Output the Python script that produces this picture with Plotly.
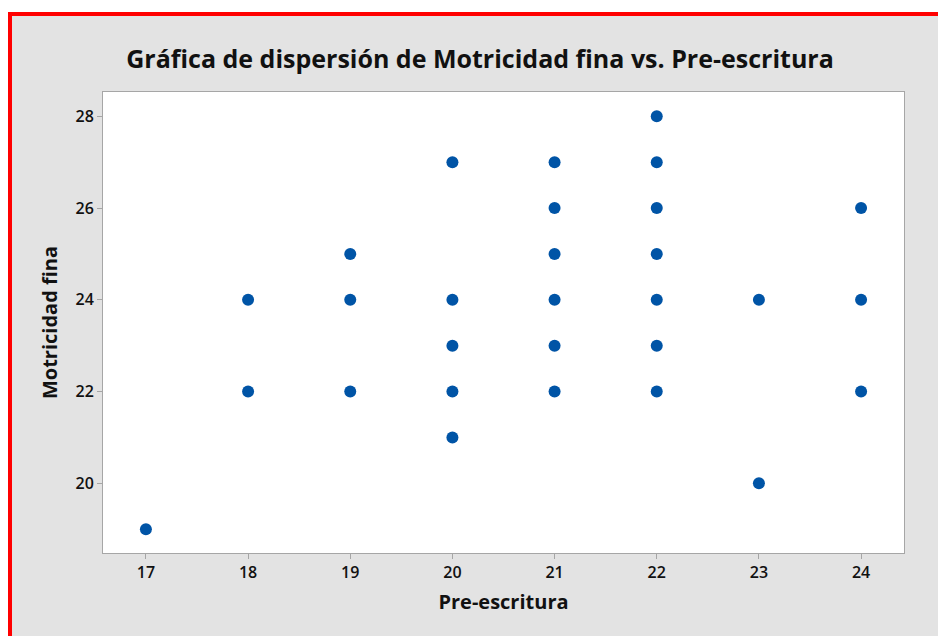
import plotly.graph_objects as go

# Data (Pre-escritura vs Motricidad fina)
pre_escritura = [17,
                 18, 18,
                 19, 19, 19,
                 20, 20, 20, 20, 20,
                 21, 21, 21, 21, 21, 21,
                 22, 22, 22, 22, 22, 22, 22,
                 23, 23,
                 24, 24, 24]
motricidad_fina = [19,
                   22, 24,
                   22, 24, 25,
                   21, 22, 23, 24, 27,
                   22, 23, 24, 25, 26, 27,
                   22, 23, 24, 25, 26, 27, 28,
                   20, 24,
                   22, 24, 26]

x_ticks = [17, 18, 19, 20, 21, 22, 23, 24]
y_ticks = [20, 22, 24, 26, 28]

W, H = 938, 636
L, R, T, B = 103, 34, 92, 83
PW, PH = W - L - R, H - T - B

def px(xp):
    return (xp - L) / PW

def py(yp):
    return (H - B - yp) / PH

FONT = "Open Sans"
BG = "#e3e3e3"
AX = "#a6a6a6"

fig = go.Figure()
fig.add_trace(go.Scatter(
    x=pre_escritura, y=motricidad_fina, mode="markers",
    marker=dict(color="#0054a6", size=12, line=dict(width=0)),
    hoverinfo="x+y", showlegend=False,
))

axis_common = dict(
    showgrid=False, zeroline=False, showline=True, linecolor=AX, linewidth=1,
    mirror=True, ticks="outside", ticklen=5, tickcolor=AX, tickwidth=1,
    tickfont=dict(family=FONT, size=16, color="#111111", weight=600),
)

fig.update_layout(
    width=W, height=H,
    margin=dict(l=L, r=R, t=T, b=B),
    paper_bgcolor=BG, plot_bgcolor="white",
    title=dict(text="<b>Gráfica de dispersión de Motricidad fina vs. Pre-escritura</b>",
               font=dict(family=FONT, size=25, color="#111111"),
               x=480 / W, xanchor="center", xref="container",
               y=1 - 59 / H, yanchor="middle", yref="container"),
    xaxis=dict(range=[16.58, 24.42], tickvals=x_ticks,
               title=dict(text="<b>Pre-escritura</b>", standoff=12,
                          font=dict(family=FONT, size=20, color="#111111")),
               **axis_common),
    yaxis=dict(range=[18.48, 28.53], tickvals=y_ticks,
               title=dict(text="<b>Motricidad fina</b>", standoff=12,
                          font=dict(family=FONT, size=20, color="#111111")),
               **axis_common),
    shapes=[
        # white outer strips (top and left)
        dict(type="rect", xref="paper", yref="paper", layer="above",
             x0=px(0), x1=px(W), y0=py(0), y1=py(12),
             fillcolor="white", line=dict(width=0)),
        dict(type="rect", xref="paper", yref="paper", layer="above",
             x0=px(0), x1=px(8), y0=py(0), y1=py(H),
             fillcolor="white", line=dict(width=0)),
        # red border lines
        dict(type="rect", xref="paper", yref="paper", layer="above",
             x0=px(8), x1=px(W), y0=py(12), y1=py(16),
             fillcolor="#ff0000", line=dict(width=0)),
        dict(type="rect", xref="paper", yref="paper", layer="above",
             x0=px(8), x1=px(12), y0=py(12), y1=py(H),
             fillcolor="#ff0000", line=dict(width=0)),
    ],
)

fig.write_html("out.html",
               config={"displayModeBar": False},
               post_script="document.body.style.margin='0';document.body.style.padding='0';")
